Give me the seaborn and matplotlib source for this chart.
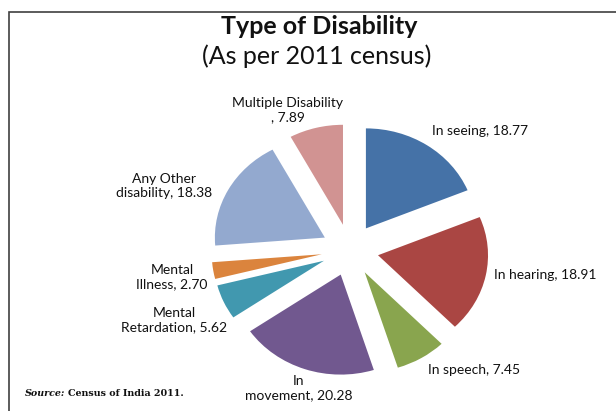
import matplotlib
matplotlib.use("Agg")
import matplotlib.pyplot as plt
import seaborn as sns
from matplotlib.patches import Rectangle

categories = ["In seeing", "In hearing", "In speech", "In\nmovement",
              "Mental\nRetardation", "Mental\nIllness",
              "Any Other\ndisability", "Multiple Disability\n"]
values = [18.77, 18.91, 7.45, 20.28, 5.62, 2.70, 18.38, 7.89]
colors = ["#4572A7", "#AA4643", "#89A54E", "#71588F",
          "#4198AF", "#DB843D", "#93A9CF", "#D19392"]

sns.set_theme(style="white")
plt.rcParams['font.family'] = ['Lato', 'DejaVu Sans']

W, H = 616, 411
SX = 1.1  # horizontal stretch of the pie (px per data unit along x)
fig = plt.figure(figsize=(W / 100, H / 100), dpi=100)
ax = fig.add_axes([0, 0, 1, 1])

pal = sns.color_palette(colors)
labels = [f"{c}, {v:.2f}" for c, v in zip(categories, values)]
wedges, texts = ax.pie(values, colors=pal, startangle=90, counterclock=False,
                       explode=[26] * len(values), radius=100,
                       center=(350 / SX, H - 250), labels=labels,
                       wedgeprops=dict(linewidth=0),
                       textprops=dict(fontsize=10, color="#111111"))
ax.set_xlim(0, W / SX)
ax.set_ylim(0, H)
ax.set_aspect("auto")
ax.axis("off")

# label layout (pixel positions, image coords)
pos = [(432, 131, "left"), (494, 275, "left"), (428, 370, "left"),
       (299, 388, "center"), (174, 320, "center"), (172, 277, "center"),
       (164, 186, "center"), (288, 110, "center")]
for t, (x, y, ha) in zip(texts, pos):
    t.set_position((x / SX, H - y))
    t.set_ha(ha)
    t.set_va("center")
    t.set_multialignment("center")

fig.text(319 / W, 1 - 26 / H, "Type of Disability", ha="center", va="center",
         fontsize=18, fontweight="bold", color="#111111")
fig.text(317 / W, 1 - 56 / H, "(As per 2011 census)", ha="center", va="center",
         fontsize=18, color="#111111")

t1 = fig.text(25 / W, 1 - 393 / H, "Source:", ha="left", va="center",
              fontsize=6.8, fontweight="bold", fontstyle="italic",
              family=["DejaVu Serif"], color="#111111")
r = fig.canvas.get_renderer()
bb = t1.get_window_extent(renderer=r)
fig.text((bb.x1 + 3) / W, 1 - 393 / H, "Census of India 2011.", ha="left",
         va="center", fontsize=6.8, fontweight="bold",
         family=["DejaVu Serif"], color="#111111")

fig.add_artist(Rectangle((9 / W, -0.1), 1.2, 1 - 12 / H + 0.1,
                         transform=fig.transFigure, fill=False,
                         edgecolor="#404040", linewidth=1.2))

fig.savefig("out.png", dpi=100)
